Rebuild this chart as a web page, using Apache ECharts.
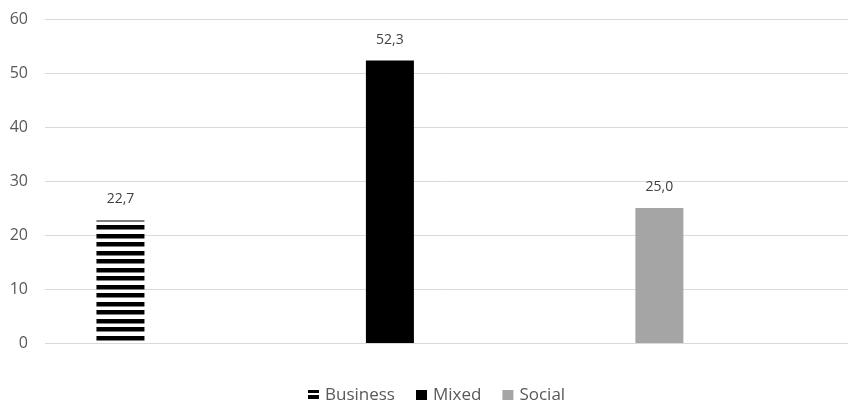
<!DOCTYPE html>
<html>
<head>
<meta charset="utf-8">
<script src="https://cdn.jsdelivr.net/npm/echarts@6/dist/echarts.min.js"></script>
<style>
html,body{margin:0;padding:0;background:#fff;}
#c{width:848px;height:400px;}
</style>
</head>
<body>
<div id="c"></div>
<script>
var categories = ['Business', 'Mixed', 'Social'];
var values = [22.7, 52.3, 25.0];
var yTicks = [0, 10, 20, 30, 40, 50, 60];

function stripePattern() {
  var cv = document.createElement('canvas');
  cv.width = 8; cv.height = 17;
  var ctx = cv.getContext('2d');
  ctx.fillStyle = '#ffffff'; ctx.fillRect(0, 0, 8, 17);
  ctx.fillStyle = '#000000';
  ctx.fillRect(0, 4, 8, 4);
  ctx.fillRect(0, 13, 8, 4);
  ctx.fillStyle = '#808080';
  ctx.fillRect(0, 8, 8, 1);
  ctx.fillRect(0, 0, 8, 1);
  return { image: cv, repeat: 'repeat' };
}
function legendStripe() {
  var cv = document.createElement('canvas');
  cv.width = 6; cv.height = 6;
  var ctx = cv.getContext('2d');
  ctx.fillStyle = '#ffffff'; ctx.fillRect(0, 0, 6, 6);
  ctx.fillStyle = '#000000';
  ctx.fillRect(0, 0, 6, 3);
  ctx.fillRect(0, 5, 6, 1);
  return { image: cv, repeat: 'repeat' };
}

var colors = [stripePattern(), '#000000', '#a5a5a5'];
var legendColors = [legendStripe(), '#000000', '#a5a5a5'];

var chart = echarts.init(document.getElementById('c'), null, { renderer: 'canvas' });
var series = categories.map(function (name, i) {
  return {
    name: name,
    type: 'bar',
    barWidth: 48,
    barGap: '-100%',
    data: [[i, values[i]]],
    itemStyle: { color: colors[i] },
    label: {
      show: true,
      position: 'top',
      distance: 14,
      fontFamily: 'Open Sans',
      fontSize: 14,
      color: '#404040',
      formatter: function (p) { return p.value[1].toFixed(1).replace('.', ','); }
    }
  };
});

chart.setOption({
  animation: false,
  backgroundColor: '#ffffff',
  grid: { left: 45, right: 0, top: 19, bottom: 57 },
  xAxis: {
    type: 'value',
    min: -0.28,
    max: 2.70,
    show: false,
    splitLine: { show: false }
  },
  yAxis: {
    type: 'value',
    min: yTicks[0],
    max: yTicks[yTicks.length - 1],
    interval: 10,
    axisLine: { show: false },
    axisTick: { show: false },
    axisLabel: { margin: 17, fontFamily: 'Open Sans', fontSize: 16, color: '#595959' },
    splitLine: { lineStyle: { color: '#d9d9d9', width: 1 } }
  },
  legend: {
    data: categories.map(function (n, i) { return { name: n, itemStyle: { color: legendColors[i] } }; }),
    left: 308,
    top: 387,
    padding: 0,
    itemWidth: 11,
    itemHeight: 11,
    itemGap: 21,
    icon: 'rect',
    textStyle: { fontFamily: 'Open Sans', fontSize: 17, color: '#595959', padding: [0, 0, 0, 1] }
  },
  series: series
});
</script>
</body>
</html>
